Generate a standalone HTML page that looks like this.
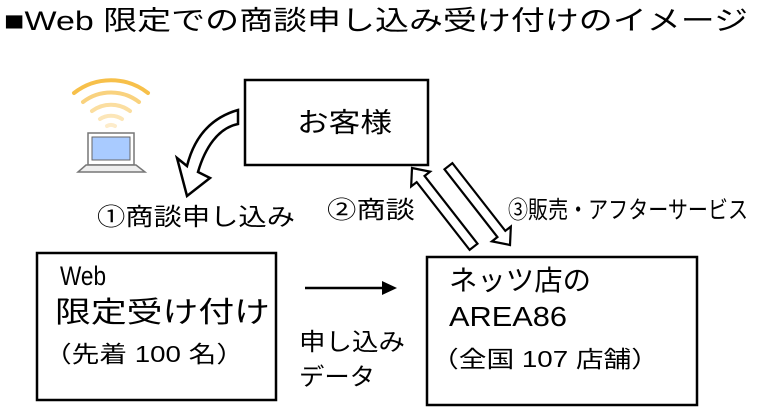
<!DOCTYPE html>
<html><head><meta charset="utf-8"><style>
html,body{margin:0;padding:0;background:#fff;}
svg{display:block}
text{font-family:"Liberation Sans","Noto Sans CJK JP",sans-serif;fill:#000}
</style></head><body>
<svg width="757" height="410" viewBox="0 0 757 410">
<text x="4" y="30" font-size="27" textLength="744" lengthAdjust="spacingAndGlyphs">■Web 限定での商談申し込み受け付けのイメージ</text>
<g fill="none" stroke-linecap="round">
<path d="M74,93 A60,60 0 0 1 148,93" stroke="#f7c04a" stroke-width="4"/>
<path d="M83,102 A46,46 0 0 1 139,102" stroke="#f9d27e" stroke-width="4"/>
<path d="M92,111 A32,32 0 0 1 130,111" stroke="#fbdea0" stroke-width="4"/>
<path d="M100,119 A20,20 0 0 1 122,119" stroke="#fce6b8" stroke-width="4"/>
<path d="M107,126 A8,8 0 0 1 115,126" stroke="#fdeccb" stroke-width="4"/>
</g>
<rect x="88" y="133" width="46" height="32" fill="#fff" stroke="#777" stroke-width="1.5"/>
<rect x="92" y="137" width="38" height="23" fill="#a9cbff" stroke="#666"/>
<path d="M86,165 L136,165 L145,172 L78,172 Z" fill="#eee" stroke="#777" stroke-width="1.5"/>
<path d="M238,110 L238,124 C218,128 205,148 198,172 L210,178 L187,196 L177,158 L187,166 C194,138 210,118 238,110 Z" fill="#fff" stroke="#000" stroke-width="2.5" stroke-linejoin="miter"/>
<rect x="245" y="80" width="183" height="85" fill="#fff" stroke="#000" stroke-width="2.5"/>
<text x="297" y="132" font-size="27" textLength="95" lengthAdjust="spacingAndGlyphs">お客様</text>
<rect x="37" y="253" width="239" height="147" fill="#fff" stroke="#000" stroke-width="2.5"/>
<text x="60" y="285" font-size="27" textLength="46" lengthAdjust="spacingAndGlyphs">Web</text>
<text x="55" y="322" font-size="29" textLength="215" lengthAdjust="spacingAndGlyphs">限定受け付け</text>
<text x="44" y="362" font-size="23" fill="#333" textLength="200" lengthAdjust="spacingAndGlyphs">（先着 100 名）</text>
<rect x="427" y="257" width="270" height="148" fill="#fff" stroke="#000" stroke-width="2.5"/>
<text x="449" y="290" font-size="28" textLength="142" lengthAdjust="spacingAndGlyphs">ネッツ店の</text>
<text x="449" y="326" font-size="28" textLength="118" lengthAdjust="spacingAndGlyphs">AREA86</text>
<text x="431" y="367" font-size="23" fill="#333" textLength="228" lengthAdjust="spacingAndGlyphs">（全国 107 店舗）</text>
<text x="97" y="225" font-size="24" fill="#333" textLength="198" lengthAdjust="spacingAndGlyphs">①商談申し込み</text>
<text x="327" y="218" font-size="24" fill="#333" textLength="88" lengthAdjust="spacingAndGlyphs">②商談</text>
<text x="508" y="218" font-size="24" fill="#333" textLength="240" lengthAdjust="spacingAndGlyphs">③販売・アフターサービス</text>
<text x="299" y="350" font-size="24" fill="#333" textLength="106" lengthAdjust="spacingAndGlyphs">申し込み</text>
<text x="299" y="385" font-size="24" fill="#333" textLength="76" lengthAdjust="spacingAndGlyphs">データ</text>
<line x1="305" y1="288" x2="385" y2="288" stroke="#000" stroke-width="2.5"/>
<path d="M397,288 L382,281 L382,295 Z" fill="#000"/>
<g fill="#fff" stroke="#000" stroke-width="2.2" stroke-linejoin="miter">
<path transform="translate(412,168) rotate(52)" d="M0,0 L14,-12 L14,-5 L100,-5 L100,5 L14,5 L14,12 Z"/>
<path transform="translate(510,245) rotate(232)" d="M0,0 L14,-12 L14,-5 L100,-5 L100,5 L14,5 L14,12 Z"/>
</g>
</svg>
</body></html>
